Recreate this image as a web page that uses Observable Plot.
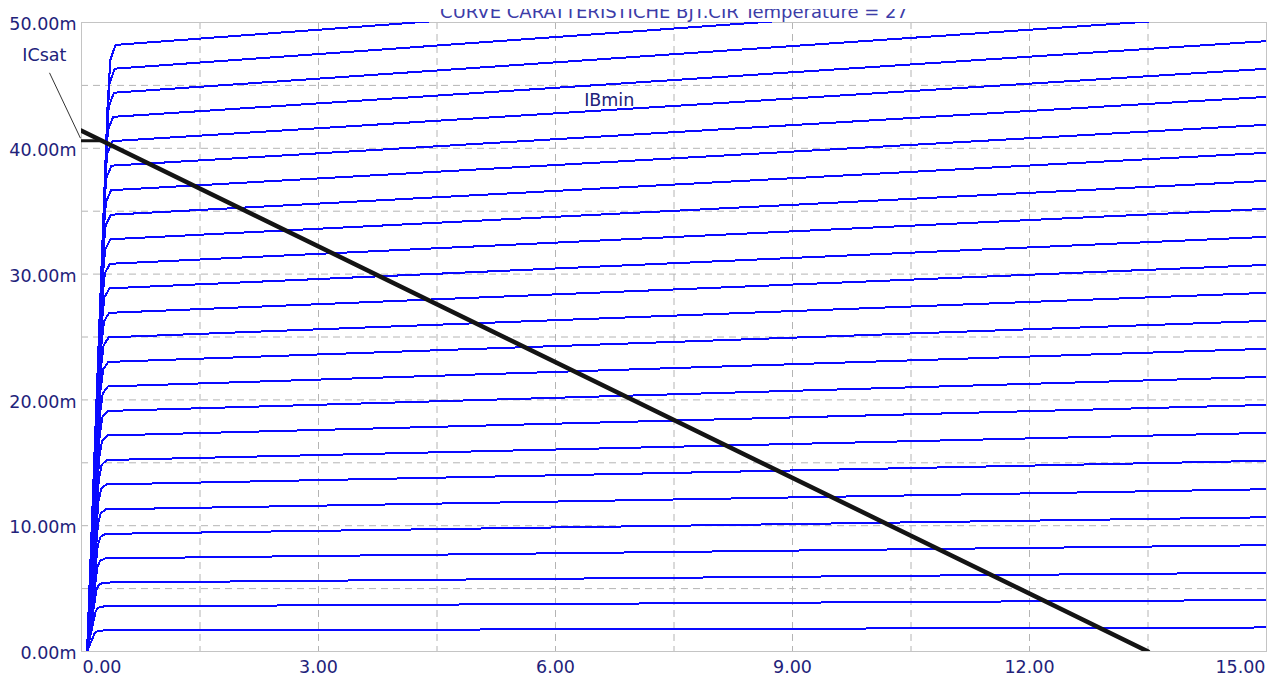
<!DOCTYPE html>
<html><head><meta charset="utf-8">
<script src="https://cdn.jsdelivr.net/npm/d3@7"></script>
<script src="https://cdn.jsdelivr.net/npm/@observablehq/plot@0.6"></script>
<style>
body{margin:0;background:#fff;overflow:hidden}
#wrap{position:relative;width:1268px;height:674px}
#cover{position:absolute;left:0;top:0;width:1268px;height:9px;background:#fff;z-index:2}
</style></head><body><div id="wrap"><div id="cover"></div></div>
<script>
const title = "CURVE CARATTERISTICHE BJT.CIR Temperature = 27";
const xTicks = [0, 3, 6, 9, 12, 15];
const yTicks = [0, 10, 20, 30, 40, 50];
const xGrid = [1.5, 3, 4.5, 6, 7.5, 9, 10.5, 12, 13.5];
const yGrid = [5, 10, 15, 20, 25, 30, 35, 40, 45];
// collector current (mA) at the start of the active region, one per base-current step
const icKnee = [1.67, 3.58, 5.48, 7.40, 9.35, 11.30, 13.28, 15.22, 17.17, 19.12, 21.07, 23.02, 24.97,
  26.92, 28.87, 30.82, 32.77, 34.72, 36.67, 38.62, 40.57, 42.50, 44.42, 46.33, 48.22];
// collector current (mA) at Vce = 15 V
const icEnd = [1.91, 4.09, 6.26, 8.45, 10.67, 12.90, 15.16, 17.38, 19.60, 21.83, 24.06, 26.28, 28.51,
  30.73, 32.96, 35.19, 37.41, 39.64, 41.87, 44.09, 46.32, 48.52, 50.72, 52.90, 55.05];
// Vce (V) where each curve bends into the active region
const vKnee = [0.17, 0.18, 0.19, 0.20, 0.205, 0.21, 0.215, 0.22, 0.225, 0.23, 0.235, 0.24, 0.245,
  0.25, 0.255, 0.26, 0.265, 0.27, 0.275, 0.28, 0.29, 0.30, 0.31, 0.32, 0.33];
const vStart = 0.07;
const vMax = 15;
// load line: Vce (V), Ic (mA)
const loadV = [0, 13.5];
const loadI = [41.4, 0];
// ICsat marker
const icSat = 40.6, vSat = 0.25;
const leaderV = [-0.405, -0.013], leaderI = [46.0, 40.8];
const labels = [
  {text: "ICsat", v: -0.47, ic: 47.4},
  {text: "IBmin", v: 6.68, ic: 43.8}
];

const curves = [{k: 0, v: 0, ic: 0}, {k: 0, v: vMax, ic: 0}];
icKnee.forEach((I, i) => {
  const k = i + 1, vk = vKnee[i];
  curves.push({k, v: 0, ic: 0});
  curves.push({k, v: vStart, ic: 0});
  curves.push({k, v: vk, ic: I * 0.9});
  curves.push({k, v: vk + 0.035, ic: I * 0.975});
  curves.push({k, v: vk + 0.1, ic: I});
  curves.push({k, v: vMax, ic: icEnd[i]});
});
const load = loadV.map((v, i) => ({v, ic: loadI[i]}));

const navy = "#22227a";
const chart = Plot.plot({
  width: 1268, height: 674,
  marginTop: 22, marginBottom: 23, marginLeft: 81, marginRight: 2,
  x: {domain: [0, 15], axis: null},
  y: {domain: [0, 50], label: null},
  style: {fontFamily: "'DejaVu Sans', sans-serif", fontSize: "17.5px", background: "white", overflow: "visible"},
  marks: [
    Plot.ruleX(xGrid, {stroke: "#b4b4b4", strokeDasharray: "7,5", strokeWidth: 1}),
    Plot.ruleY(yGrid, {stroke: "#b4b4b4", strokeDasharray: "7,5", strokeWidth: 1}),
    Plot.frame({stroke: "#c4c4c4"}),
    Plot.line(curves, {x: "v", y: "ic", z: "k", stroke: "#0a0aff", strokeWidth: 2, clip: true, shapeRendering: "crispEdges"}),
    Plot.line(load, {x: "v", y: "ic", stroke: "#141414", strokeWidth: 4.5, clip: true}),
    Plot.ruleY([icSat], {x1: 0, x2: vSat, stroke: "#141414", strokeWidth: 3}),
    Plot.link([0], {x1: () => leaderV[0], y1: () => leaderI[0], x2: () => leaderV[1], y2: () => leaderI[1], stroke: "#333", strokeWidth: 1}),
    Plot.text(labels, {x: "v", y: "ic", text: "text", fill: navy, fontSize: 17.5}),
    Plot.text([title], {frameAnchor: "top", dy: -5, lineAnchor: "bottom", fill: "#3c3ca8", fontSize: 18}),
    Plot.axisY(yTicks, {tickSize: 0, tickPadding: 5, dy: 2, label: null, tickFormat: d => d.toFixed(2) + "m", fill: navy, fontSize: 17.5}),
    Plot.text(xTicks.filter(d => d === 0), {x: d => d, text: d => d.toFixed(2), frameAnchor: "bottom", lineAnchor: "top", dy: 9, dx: 1, textAnchor: "start", fill: navy}),
    Plot.text(xTicks.filter(d => d > 0 && d < 15), {x: d => d, text: d => d.toFixed(2), frameAnchor: "bottom", lineAnchor: "top", dy: 9, fill: navy}),
    Plot.text(xTicks.filter(d => d === 15), {x: d => d, text: d => d.toFixed(2), frameAnchor: "bottom", lineAnchor: "top", dy: 9, dx: -1, textAnchor: "end", fill: navy})
  ]
});
document.getElementById("wrap").appendChild(chart);
</script></body></html>
